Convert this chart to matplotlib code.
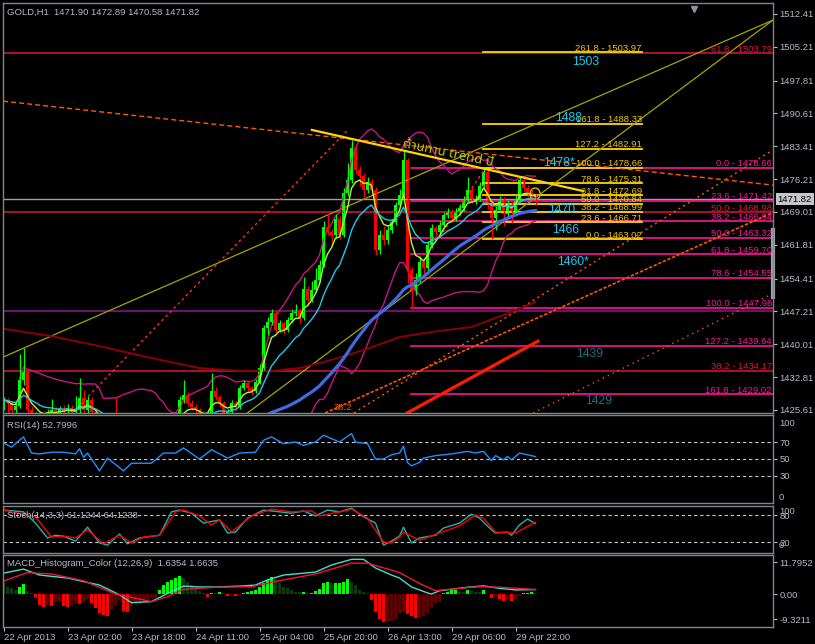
import numpy as np
import pandas as pd
import matplotlib
matplotlib.use('Agg')
import matplotlib.pyplot as plt
from matplotlib.patches import Ellipse

W, H = 815, 644

# ---------------- data (GOLD, H1) ----------------
first_open = 1426.8
closes = [
    1427.8, 1427.1, 1425.6, 1426.5, 1432.2, 1433.9, 1425.6, 1423.9, 1424.3, 1423.4,
    1423.9, 1425.2, 1425.6, 1424.7, 1425.8, 1425.4, 1426.1, 1425.2, 1425.6, 1428.2,
    1425.6, 1427.8, 1425.2, 1424.3, 1422.3, 1421.2, 1421.7, 1423.4, 1422.3, 1420.1,
    1419.0, 1418.0, 1416.9, 1415.7, 1414.6, 1415.1, 1414.2, 1413.5, 1415.7, 1416.9,
    1418.0, 1419.5, 1421.2, 1423.4, 1427.8, 1428.9, 1427.1, 1426.3, 1425.6, 1424.5,
    1423.9, 1425.0, 1429.8, 1428.5, 1427.1, 1425.0, 1425.2, 1427.1, 1426.3, 1430.4,
    1431.5, 1430.4, 1429.8, 1431.7, 1434.8, 1443.6, 1444.9, 1446.9, 1443.1, 1444.7,
    1443.1, 1445.3, 1446.9, 1447.5, 1445.8, 1452.1, 1449.7, 1451.9, 1454.1, 1457.4,
    1465.7, 1464.6, 1464.0, 1467.5, 1464.0, 1473.2, 1476.0, 1483.0, 1478.2, 1476.9,
    1473.8, 1475.6, 1473.8, 1460.7, 1464.0, 1462.9, 1465.1, 1466.8, 1470.5, 1472.7,
    1480.4, 1456.3, 1451.9, 1454.1, 1458.1, 1456.7, 1461.8, 1465.5, 1464.6, 1466.2,
    1468.3, 1469.0, 1467.7, 1469.0, 1469.9, 1471.7, 1473.8, 1471.7, 1471.9, 1474.7,
    1477.8, 1470.5, 1467.7, 1469.5, 1471.7, 1468.6, 1470.8, 1469.0, 1471.9, 1476.0,
    1474.3, 1473.4, 1471.9, 1471.82]
highs = [
    1428.5, 1428.3, 1427.6, 1427.2, 1437.9, 1439.2, 1434.7, 1426.4, 1425.2, 1425.0,
    1424.6, 1425.9, 1428.0, 1426.2, 1426.5, 1426.8, 1426.9, 1426.7, 1428.6, 1432.6,
    1430.0, 1428.7, 1428.5, 1425.8, 1424.8, 1423.0, 1422.6, 1424.3, 1428.4, 1422.9,
    1420.8, 1419.6, 1418.6, 1417.5, 1416.3, 1415.9, 1415.8, 1414.9, 1416.4, 1417.7,
    1418.8, 1420.3, 1422.0, 1424.2, 1428.6, 1432.2, 1429.5, 1427.8, 1426.9, 1426.1,
    1425.0, 1425.6, 1433.8, 1430.6, 1429.0, 1427.6, 1425.9, 1427.7, 1427.6, 1431.0,
    1432.2, 1432.0, 1430.9, 1432.3, 1435.6, 1444.3, 1446.0, 1447.7, 1447.5, 1445.3,
    1445.2, 1446.1, 1447.7, 1448.9, 1448.0, 1454.8, 1452.7, 1453.8, 1456.8, 1458.4,
    1467.0, 1468.8, 1465.3, 1468.6, 1468.1, 1474.3, 1479.8, 1484.8, 1483.6, 1479.0,
    1477.5, 1476.6, 1476.2, 1474.5, 1465.1, 1466.0, 1465.9, 1467.5, 1471.3, 1474.0,
    1482.6, 1480.9, 1457.0, 1455.7, 1459.3, 1459.0, 1462.6, 1466.3, 1466.0, 1467.0,
    1469.1, 1469.8, 1469.6, 1469.9, 1470.8, 1472.5, 1476.6, 1474.4, 1472.7, 1475.5,
    1478.66, 1478.3, 1471.2, 1470.3, 1472.6, 1472.3, 1471.6, 1471.4, 1472.7, 1476.8,
    1476.6, 1475.0, 1474.1, 1472.89]
lows = [
    1425.5, 1423.0, 1424.8, 1425.0, 1426.0, 1431.0, 1424.5, 1422.8, 1423.0, 1422.5,
    1422.8, 1423.4, 1424.8, 1424.0, 1424.2, 1424.9, 1424.9, 1424.6, 1424.3, 1425.0,
    1424.6, 1425.0, 1424.4, 1423.2, 1421.5, 1420.5, 1420.6, 1421.2, 1421.6, 1419.4,
    1418.2, 1417.2, 1416.0, 1414.9, 1413.8, 1413.9, 1413.3, 1412.5, 1413.0, 1415.2,
    1416.4, 1417.5, 1419.0, 1420.6, 1422.9, 1427.2, 1426.4, 1425.6, 1424.8, 1423.8,
    1423.1, 1423.4, 1424.6, 1427.8, 1426.3, 1424.2, 1424.5, 1424.8, 1425.7, 1425.9,
    1429.9, 1429.8, 1429.0, 1429.3, 1431.2, 1434.3, 1442.0, 1444.2, 1442.4, 1442.6,
    1442.2, 1442.7, 1444.8, 1446.3, 1444.7, 1445.3, 1448.6, 1449.2, 1451.4, 1453.7,
    1456.9, 1463.9, 1461.9, 1463.4, 1463.0, 1463.5, 1472.6, 1475.4, 1477.4, 1474.6,
    1472.0, 1473.1, 1473.0, 1459.5, 1459.7, 1461.8, 1462.0, 1464.4, 1466.2, 1470.0,
    1472.1, 1453.5, 1448.0, 1450.9, 1453.4, 1455.0, 1456.1, 1461.2, 1463.6, 1463.9,
    1465.7, 1467.6, 1466.9, 1467.0, 1468.3, 1469.3, 1471.2, 1470.9, 1470.8, 1471.4,
    1474.1, 1469.6, 1463.0, 1465.0, 1468.9, 1466.0, 1467.9, 1466.5, 1468.4, 1471.3,
    1473.6, 1472.1, 1471.5, 1470.58]

# long moving average (dark red)
slow_ma_bars = [0, 12, 24, 37, 49, 59, 67, 74, 82, 91, 99, 107, 117, 127, 133]
slow_ma_vals = [1443.4, 1441.8, 1439.6, 1437.0, 1434.8, 1434.2, 1434.2, 1434.8,
                1436.6, 1439.0, 1441.6, 1442.7, 1443.8, 1447.1, 1449.3]

# fibonacci levels
fib_yellow = [(261.8, 1503.97), (161.8, 1488.33), (127.2, 1482.91), (100.0, 1478.66),
              (78.6, 1475.31), (61.8, 1472.69), (50.0, 1470.84), (38.2, 1468.99),
              (23.6, 1466.71), (0.0, 1463.02)]
fib_pink = [(0.0, 1478.66), (23.6, 1471.42), (38.2, 1466.94), (50.0, 1463.32),
            (61.8, 1459.70), (78.6, 1454.55), (100.0, 1447.98), (127.2, 1439.64),
            (161.8, 1429.02)]
fib_red = [(61.8, 1503.79), (50.0, 1468.98), (38.2, 1434.17)]
purple_level = 1447.3
bid = 1471.82

# level notes written on the chart
notes = [("1503", 142.1, 1501.9), ("1488", 137.9, 1489.6), ("1478*", 134.9, 1479.7),
         ("1470", 136.1, 1469.5), ("1466", 137.1, 1465.1), ("1460*", 138.4, 1458.0)]
notes_dark = [("1439", 143.1, 1437.9), ("1429", 145.4, 1427.6)]

# trend lines: (bar0, price0, bar1, price1)
olive1 = (-0.1, 1437.2, 192.4, 1511.1)
olive2 = (60.9, 1424.9, 192.4, 1511.1)
resist = (77.1, 1487.0, 144.9, 1473.6)
orange_dash = (-0.1, 1493.3, 192.4, 1474.9)
red_dash = (17.1, 1424.95, 86.1, 1487.0)
red_dash2 = (109.9, 1464.6, 120.4, 1478.6)
orange_dot1 = (87.6, 1424.95, 191.6, 1482.2)
orange_dot2 = (132.4, 1424.95, 191.6, 1450.8)
orange_line = (80.4, 1424.95, 192.1, 1468.8)
red_thick = (100.9, 1424.95, 133.6, 1440.7)

# RSI(14)
rsi_bars = [0, 2, 5, 7, 9, 12, 15, 18, 19, 20, 21, 24, 26, 30, 32, 37, 40, 43, 45, 49,
            52, 56, 59, 63, 65, 67, 70, 73, 75, 78, 80, 84, 87, 88, 91, 93, 95, 97, 99, 100,
            101, 102, 104, 105, 108, 112, 116, 118, 120, 122, 123, 125, 126, 127, 129, 131, 133]
rsi_vals = [68.8, 64, 76, 57, 56, 58, 58, 56, 62, 52, 57, 36, 51, 36, 45, 45, 57, 57, 63, 50,
            61, 51, 57, 58, 72, 76, 68, 70, 66, 70, 78, 70, 80, 70, 68, 50, 50, 55, 57, 65,
            46, 42, 46, 51, 54, 56, 59, 57, 59, 48, 54, 49, 53, 49, 57, 55, 52.8]

# Stochastic(14,3,3)
sk_bars = [0, 5, 8, 11, 13, 15, 18, 21, 24, 26, 29, 31, 34, 39, 42, 44, 47, 50, 54, 56,
           58, 61, 65, 72, 75, 78, 81, 84, 87, 90, 93, 95, 97, 99, 100, 102, 104, 108, 110, 114,
           117, 119, 122, 123, 126, 127, 129, 131, 133]
sk_vals = [91, 87, 62, 29, 35, 33, 22, 53, 18, 13, 38, 16, 29, 35, 87, 91, 84, 62, 69, 40,
           42, 73, 91, 84, 89, 78, 91, 87, 95, 76, 62, 13, 22, 33, 53, 18, 29, 35, 51, 62,
           82, 73, 47, 40, 42, 35, 58, 71, 61.1]
sd_bars = [0, 8, 12, 15, 18, 21, 25, 29, 32, 35, 39, 43, 45, 49, 52, 54, 57, 62, 67, 72,
           77, 79, 84, 87, 91, 95, 97, 99, 100, 104, 109, 114, 118, 120, 123, 128, 133]
sd_vals = [91, 76, 31, 33, 29, 47, 16, 35, 18, 31, 35, 87, 91, 78, 58, 69, 42, 78, 93, 87,
           89, 78, 87, 93, 73, 20, 18, 31, 42, 24, 40, 56, 80, 73, 42, 40, 64.1]

# MACD_Histogram_Color (12,26,9)
hist = [4.4, 2.6, 2.1, 1.5, 2.7, 3.6, 1.0, 0.2, -1.2, -4.0,
        -4.7, -4.0, -4.4, -3.0, -2.5, -4.4, -4.7, -4.4, -3.5, -3.7,
        -2.8, -2.0, -3.5, -5.3, -7.1, -7.7, -8.1, -5.9, -4.1, -2.2,
        -6.1, -6.5, -4.4, -3.5, -3.0, -2.5, -2.0, -1.5, -1.0, 1.5,
        3.3, 4.5, 5.2, 5.8, 6.6, 5.8, 4.5, 3.3, 2.1, 1.2,
        0.4, -1.0, 0.5, 0.3, 0.6, 0.2, -0.8, -0.5, -0.9, -0.3,
        0.4, 0.7, 1.0, 1.5, 2.7, 3.9, 5.2, 6.4, 5.5, 4.1,
        2.6, 2.1, 1.5, 0.8, 0.7, 0.9, 0.3, 0.5, 1.1, 1.7,
        3.9, 4.5, 3.9, 4.0, 4.1, 4.5, 5.4, 4.5, 3.3, 1.5,
        0.8, 0.2, -2.2, -6.5, -9.2, -10.2, -10.1, -10.0, -9.2, -7.0,
        -6.8, -7.5, -8.1, -8.9, -8.9, -8.1, -7.0, -4.9, -3.3, -2.8,
        0.3, 0.9, 1.3, 1.3, 0.8, 0.7, 1.3, 1.0, 0.8, 0.7,
        1.3, 0.1, -1.6, -1.2, -1.9, -2.6, -1.9, -2.6, -1.9, -0.9,
        0.2, 0.3, 0.6, 0.2]
macd_bars = [0, 5, 9, 16, 24, 29, 32, 37, 41, 45, 49, 53, 59, 63, 66, 70, 78, 82, 87, 90,
             93, 97, 99, 102, 106, 107, 109, 116, 120, 124, 128, 133]
macd_vals = [7.7, 9.2, 7.0, 5.9, 3.3, -0.3, -3.2, -2.8, 0.2, 2.9, 2.6, 2.6, 2.9, 3.3, 5.2, 7.0,
             8.1, 10.7, 12.8, 12.8, 9.6, 7.0, 5.9, 2.6, 0.4, 0.0, 1.2, 2.5, 3.0, 2.1, 1.5, 1.6354]
sig_bars = [0, 6, 12, 20, 28, 37, 41, 45, 53, 62, 70, 78, 87, 91, 99, 104, 108, 114, 119, 124, 133]
sig_vals = [4.8, 7.9, 7.4, 4.9, 0.0, -2.8, -1.0, 1.7, 2.5, 2.7, 5.2, 7.4, 11.4, 11.4, 7.9,
            3.9, 1.2, 2.1, 2.7, 2.5, 1.6635]

time_bars = [0, 16, 32, 48, 64, 80, 96, 112, 128]
time_labels = ['22 Apr 2013', '23 Apr 02:00', '23 Apr 18:00', '24 Apr 11:00', '25 Apr 04:00',
               '25 Apr 20:00', '26 Apr 13:00', '29 Apr 06:00', '29 Apr 22:00']
price_ticks = [1512.41, 1505.21, 1497.81, 1490.61, 1483.41, 1476.21, 1469.01,
               1461.81, 1454.41, 1447.21, 1440.01, 1432.81, 1425.61]

# ---------------- style ----------------
FRAME = '#7d8690'
TXT = '#b4bcc6'
FONT = 'Liberation Sans'
FS = 6.8
plt.rcParams['font.family'] = [FONT, 'DejaVu Sans']

XMIN, XMAX = (3 - 3.5) / 4, (773 - 3.5) / 4

fig = plt.figure(figsize=(W / 100, H / 100), dpi=100, facecolor='black')


def panel(x0, y0, x1, y1, ylim):
    ax = fig.add_axes([x0 / W, 1 - y1 / H, (x1 - x0) / W, (y1 - y0) / H])
    ax.set_facecolor('black')
    for s in ax.spines.values():
        s.set_color(FRAME)
        s.set_linewidth(1)
    ax.set_xlim(XMIN, XMAX)
    ax.set_ylim(*ylim)
    ax.yaxis.tick_right()
    ax.tick_params(colors=TXT, labelsize=FS, length=3, width=0.8, direction='out', pad=1.5)
    ax.tick_params(axis='x', bottom=False, labelbottom=False)
    return ax


def seg(ax, l, **kw):
    ax.plot([l[0], l[2]], [l[1], l[3]], **kw)


ax = panel(3, 3, 773, 413, (1424.95, 1514.82))
ax_rsi = panel(3, 415, 773, 503, (-1.8, 101.8))
ax_st = panel(3, 506, 773, 553, (-4.4, 100))
ax_m = panel(3, 555, 773, 627, (-12.18, 14.4))

# ---------------- main chart ----------------
ax.set_yticks(price_ticks)
ax.set_yticklabels([f'{v:.2f}' for v in price_ticks])

full = [XMIN, XMAX]
for _, lv in fib_red:
    ax.plot(full, [lv, lv], color='#dc143c', lw=1.1)
ax.plot(full, [purple_level] * 2, color='#8b1a8b', lw=1.1)
ax.plot(full, [bid, bid], color='#98a0a8', lw=1)
for _, lv in fib_pink:
    ax.plot([101.9, XMAX], [lv, lv], color='#ff1493', lw=1.2)
for _, lv in fib_yellow:
    ax.plot([119.9, 159.6], [lv, lv], color='#ffd700', lw=1.3)

seg(ax, olive1, color='#a5a500', lw=0.9)
seg(ax, olive2, color='#a5a500', lw=0.9)
seg(ax, orange_dash, color='#ff5a00', lw=1, ls=(0, (3.6, 2.2)))
seg(ax, red_dash, color='#ff2a2a', lw=1, ls=(0, (2, 2.2)))
seg(ax, red_dash2, color='#ff2a2a', lw=1, ls=(0, (2, 2.2)))
seg(ax, orange_dot1, color='#ff5a00', lw=1, ls=(0, (1.5, 2.5)))
seg(ax, orange_dot2, color='#ff5a00', lw=1, ls=(0, (1, 3)))
seg(ax, orange_line, color='#ff5500', lw=1.2, ls=(0, (2, 1)))
seg(ax, red_thick, color='#ff1a00', lw=2.3)

c = pd.Series(closes)
opens = np.r_[first_open, c.values[:-1]]
x = np.arange(len(closes))
mid = c.rolling(20, min_periods=5).mean()
sd = c.rolling(20, min_periods=5).std(ddof=0)
ax.plot(x, mid + 2 * sd, color='#c71585', lw=1)
ax.plot(x, mid - 2 * sd, color='#c71585', lw=1)
ax.plot(slow_ma_bars, slow_ma_vals, color='#8b0000', lw=1.4)

up = c.values >= opens
col = np.where(up, '#00ff00', '#ff0000')
ax.vlines(x, lows, highs, colors=col, lw=0.9)
body_lo = np.minimum(opens, c.values)
body_h = np.maximum(np.abs(c.values - opens), 0.12)
ax.bar(x, body_h, bottom=body_lo, width=0.7, color=col, linewidth=0)

ax.plot(x, c.ewm(span=5, adjust=False).mean(), color='#adff2f', lw=1)
ax.plot(x, c.ewm(span=13, adjust=False).mean(), color='#22c8ee', lw=1)
ax.plot(x, c.rolling(50).mean(), color='#4169e1', lw=2.3)
seg(ax, resist, color='#ffd700', lw=1.6)

ax.add_patch(Ellipse((132.9, 1472.96), 2.5, 2.6, fill=False, ec='#c8c800', lw=1))

for lvl, lv in fib_yellow:
    ax.text(159.6, lv + 0.35, f'{lvl:.1f} - {lv:.2f}', color='#f0c800', fontsize=FS,
            ha='right', va='baseline')
for lvl, lv in fib_pink:
    ax.text(192.1, lv + 0.35, f'{lvl:.1f} - {lv:.2f}', color='#f0189a', fontsize=FS,
            ha='right', va='baseline')
for lvl, lv in fib_red:
    ax.text(192.1, lv + 0.35, f'{lvl:.1f} - {lv:.2f}', color='#dc143c', fontsize=FS,
            ha='right', va='baseline')
for t, bx, py in notes:
    ax.text(bx, py, t, color='#1ec8ec', fontsize=8.8, ha='left', va='center')
for t, bx, py in notes_dark:
    ax.text(bx, py, t, color='#1d6f7c', fontsize=8.8, ha='left', va='center')
ax.text(82.4, 1426.2, '38.2', color='#ff5a00', fontsize=FS, ha='left', va='center')

ax.text(111, 1481.8, 'ต้านทาน trend ปี', color='#c8c800', fontsize=9.5,
        rotation=-12, ha='center', va='center',
        family=['Noto Sans Thai', 'Loma', 'Garuda', 'Tlwg Typo', 'DejaVu Sans'])

ax.annotate(f'{bid:.2f}', xy=(1, bid), xycoords=('axes fraction', 'data'),
            xytext=(3.2, 0), textcoords='offset points', fontsize=FS, color='black',
            va='center', ha='left', annotation_clip=False,
            bbox=dict(boxstyle='square,pad=0.18', fc='#c4c8cc', ec='none'))
ax.plot([1.0, 1.0], [1465.0, 1450.3], color='#9aa2aa', lw=3,
        transform=ax.get_yaxis_transform(), clip_on=False)
ax.plot([0.8975], [0.985], marker='v', ms=5, color='#8a939c',
        transform=ax.transAxes, clip_on=False)

# ---------------- RSI ----------------
for lv in (70, 50, 30):
    ax_rsi.axhline(lv, color='#c8c8c8', lw=0.8, ls=(0, (3, 2.5)))
ax_rsi.plot(rsi_bars, rsi_vals, color='#1e90ff', lw=1)
ax_rsi.set_yticks([70, 50, 30])
ax_rsi.set_yticklabels(['70', '50', '30'])

# ---------------- Stochastic ----------------
for lv in (80, 20):
    ax_st.axhline(lv, color='#c8c8c8', lw=0.8, ls=(0, (3, 2.5)))
ax_st.plot(sk_bars, sk_vals, color='#20b2aa', lw=1)
ax_st.plot(sd_bars, sd_vals, color='#ff0000', lw=1)
ax_st.set_yticks([80, 20])
ax_st.set_yticklabels(['80', '20'])

# ---------------- MACD ----------------
hcol = []
prev = None
for v in hist:
    if v >= 0:
        hcol.append('#00ff00' if prev is not None and v >= prev else '#0c3a0c')
    else:
        hcol.append('#ff0000' if prev is not None and v < prev else '#5c0000')
    prev = v
ax_m.bar(np.arange(len(hist)), hist, width=0.72, color=hcol, linewidth=0)
ax_m.plot(macd_bars, macd_vals, color='#40e0d0', lw=1)
ax_m.plot(sig_bars, sig_vals, color='#f0143c', lw=1)
ax_m.set_yticks([11.7952, 0.0, -9.3211])
ax_m.set_yticklabels(['11.7952', '0.00', '-9.3211'])
ax_m.set_xticks(time_bars)
ax_m.set_xticklabels(time_labels)
ax_m.tick_params(axis='x', bottom=True, labelbottom=True, length=3, pad=1.5,
                 colors=TXT, labelsize=FS)
for lab in ax_m.get_xticklabels():
    lab.set_ha('left')

# ---------------- texts ----------------
def ftext(xp, yp, s, **kw):
    fig.text(xp / W, 1 - yp / H, s, color=TXT, fontsize=FS, va='center', ha='left', **kw)

ftext(7, 12, 'GOLD,H1  1471.90 1472.89 1470.58 1471.82')
ftext(7, 426, 'RSI(14) 52.7996')
ftext(7, 516, 'Stoch(14,3,3) 61.1244 64.1238')
ftext(7, 564, 'MACD_Histogram_Color (12,26,9)  1.6354 1.6635')
ftext(779, 423, '100')
ftext(779, 497, '0')
ftext(779, 511, '100')
ftext(779, 546, '0')

fig.savefig('out.png', dpi=100, facecolor='black')
